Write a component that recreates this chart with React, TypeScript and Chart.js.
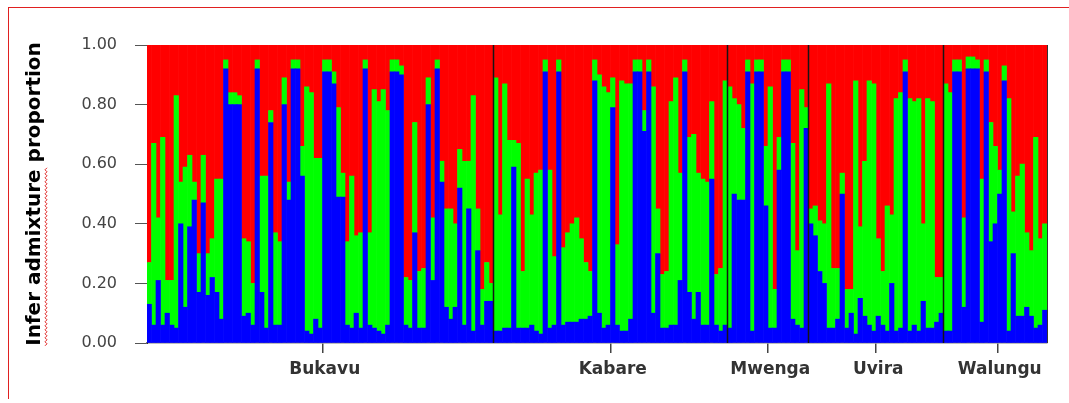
import React, { useEffect, useRef } from "react";
import { Chart, registerables } from "chart.js";

Chart.register(...registerables);

// ---- Data (ancestry proportions per individual, K = 3) ----
const POPULATIONS = ["Bukavu", "Kabare", "Mwenga", "Uvira", "Walungu"];

const BLUE_BUKAVU = [.13,.06,.21,.06,.10,.06,.05,.40,.12,.39,.48,.17,.47,.16,.22,.17,.08,.92,.80,.80,.80,.09,.10,.06,.92,.17,.05,.74,.06,.06,.80,.48,.92,.92,.56,.04,.03,.08,.05,.91,.91,.87,.49,.49,.06,.05,.10,.05,.92,.06,.05,.04,.03,.06,.91,.91,.90,.06,.05,.37,.05,.05,.80,.21,.92,.54,.12,.08,.12,.52,.06,.45,.04,.31,.06,.14,.14];
const GREEN_BUKAVU = [.14,.61,.21,.63,.11,.15,.78,.14,.47,.24,.06,.13,.16,.14,.13,.38,.47,.03,.04,.04,.03,.26,.24,.14,.03,.39,.51,.04,.31,.28,.09,.06,.03,.03,.10,.82,.81,.54,.57,.04,.04,.04,.30,.08,.28,.51,.26,.32,.03,.31,.80,.77,.82,.72,.04,.04,.03,.16,.16,.37,.19,.20,.09,.21,.03,.07,.33,.37,.28,.13,.55,.16,.79,.14,.12,.13,.06];
const RED_BUKAVU = [.73,.33,.58,.31,.79,.79,.17,.46,.41,.37,.46,.70,.37,.70,.65,.45,.45,.05,.16,.16,.17,.65,.66,.80,.05,.44,.44,.22,.63,.66,.11,.46,.05,.05,.34,.14,.16,.38,.38,.05,.05,.09,.21,.43,.66,.44,.64,.63,.05,.63,.15,.19,.15,.22,.05,.05,.07,.78,.79,.26,.76,.75,.11,.58,.05,.39,.55,.55,.60,.35,.39,.39,.17,.55,.82,.73,.80];

const BLUE_KABARE = [.04,.04,.05,.05,.59,.05,.05,.05,.06,.04,.03,.91,.05,.06,.91,.06,.07,.07,.07,.08,.08,.09,.88,.10,.05,.06,.79,.06,.04,.04,.08,.91,.91,.71,.91,.10,.30,.05,.05,.06,.06,.21,.91,.17,.08,.17,.06,.06,.55,.06,.04,.06];
const GREEN_KABARE = [.85,.39,.82,.63,.09,.62,.19,.50,.37,.53,.55,.04,.53,.23,.04,.26,.30,.33,.35,.27,.19,.15,.07,.80,.81,.78,.10,.27,.84,.83,.79,.04,.04,.07,.04,.76,.15,.18,.19,.75,.83,.36,.04,.52,.62,.40,.49,.48,.26,.17,.21,.82];
const RED_KABARE = [.11,.57,.13,.32,.32,.33,.76,.45,.57,.43,.42,.05,.42,.71,.05,.68,.63,.60,.58,.65,.73,.76,.05,.10,.14,.16,.11,.67,.12,.13,.13,.05,.05,.22,.05,.14,.55,.77,.76,.19,.11,.43,.05,.31,.30,.43,.45,.46,.19,.77,.75,.12];

const BLUE_MWENGA = [.05,.50,.48,.48,.91,.04,.91,.91,.46,.05,.05,.58,.91,.91,.08,.06,.05,.72];
const GREEN_MWENGA = [.81,.32,.32,.24,.04,.83,.04,.04,.20,.81,.13,.11,.04,.04,.59,.25,.80,.07];
const RED_MWENGA = [.14,.18,.20,.28,.05,.13,.05,.05,.34,.14,.82,.31,.05,.05,.33,.69,.15,.21];

const BLUE_UVIRA = [.40,.36,.24,.20,.05,.05,.08,.50,.05,.10,.03,.15,.09,.06,.04,.09,.06,.04,.20,.04,.05,.91,.04,.06,.04,.14,.05,.05,.07,.10];
const GREEN_UVIRA = [.05,.10,.17,.20,.82,.20,.17,.07,.13,.08,.85,.24,.52,.82,.83,.26,.18,.42,.23,.78,.79,.04,.78,.75,.78,.26,.77,.76,.15,.12];
const RED_UVIRA = [.55,.54,.59,.60,.13,.75,.75,.43,.82,.82,.12,.61,.39,.12,.13,.65,.76,.54,.57,.18,.16,.05,.18,.19,.18,.60,.18,.19,.78,.78];

const BLUE_WALUNGU = [.04,.04,.91,.91,.12,.92,.92,.92,.07,.91,.34,.40,.50,.88,.04,.30,.09,.09,.12,.09,.05,.06,.11];
const GREEN_WALUNGU = [.83,.80,.04,.04,.30,.04,.04,.03,.48,.04,.40,.26,.08,.05,.78,.14,.47,.51,.25,.22,.64,.29,.29];
const RED_WALUNGU = [.13,.16,.05,.05,.58,.04,.04,.05,.45,.05,.26,.34,.42,.07,.18,.56,.44,.40,.63,.69,.31,.65,.60];

const Y_TICKS = [0, 0.2, 0.4, 0.6, 0.8, 1.0];
const Y_TITLE = "Infer admixture proportion";
const Y_TITLE_FLAGGED = "Infer admixture";

// ---- Styles ----
const C_BLUE = "#0000ff";
const C_GREEN = "#00ff00";
const C_RED = "#ff0000";
const CANVAS_W = 1050;
const CANVAS_H = 381;
const TITLE_FONT_SIZE = 20;
const TITLE_PAD = 14;

const GROUP_BLUE = [BLUE_BUKAVU, BLUE_KABARE, BLUE_MWENGA, BLUE_UVIRA, BLUE_WALUNGU];
const GROUP_GREEN = [GREEN_BUKAVU, GREEN_KABARE, GREEN_MWENGA, GREEN_UVIRA, GREEN_WALUNGU];
const GROUP_RED = [RED_BUKAVU, RED_KABARE, RED_MWENGA, RED_UVIRA, RED_WALUNGU];

export default function App() {
  const canvasRef = useRef<HTMLCanvasElement | null>(null);

  useEffect(() => {
    document.body.style.margin = "0";
    const canvas = canvasRef.current;
    if (!canvas) return;

    const categories: string[] = [];
    const tickLabels: string[] = [];
    const groupStarts: number[] = [];
    POPULATIONS.forEach((pop, g) => {
      const size = GROUP_BLUE[g].length;
      const start = categories.length;
      groupStarts.push(start);
      const mid = start + Math.ceil(size / 2);
      for (let k = 0; k < size; k++) {
        categories.push(`${pop} ${k + 1}`);
        tickLabels.push(start + k === mid ? pop : "");
      }
    });
    const blue = GROUP_BLUE.flat();
    const green = GROUP_GREEN.flat();
    const red = GROUP_RED.flat();

    const decorPlugin = {
      id: "decor",
      afterDatasetsDraw(chart: any) {
        const { ctx, chartArea, scales } = chart;
        const x = scales.x;
        ctx.save();
        ctx.strokeStyle = "#151515";
        ctx.lineWidth = 1.5;
        groupStarts.slice(1).forEach((i) => {
          const px = (x.getPixelForValue(i - 1) + x.getPixelForValue(i)) / 2;
          ctx.beginPath();
          ctx.moveTo(px, chartArea.top);
          ctx.lineTo(px, chartArea.bottom);
          ctx.stroke();
        });
        ctx.strokeStyle = "#333";
        ctx.lineWidth = 1;
        ctx.beginPath();
        ctx.moveTo(chartArea.right + 0.5, chartArea.top);
        ctx.lineTo(chartArea.right + 0.5, chartArea.bottom);
        ctx.stroke();
        ctx.restore();
      },
      afterDraw(chart: any) {
        const { ctx, scales } = chart;
        const y = scales.y;
        ctx.save();
        ctx.font = `bold ${TITLE_FONT_SIZE}px "DejaVu Sans"`;
        const fullW = ctx.measureText(Y_TITLE).width;
        const partW = ctx.measureText(Y_TITLE_FLAGGED).width;
        const cy = (y.top + y.bottom) / 2;
        const bottom = cy + fullW / 2;
        const top = bottom - partW;
        const cx = TITLE_FONT_SIZE * 0.6 + TITLE_PAD;
        const lx = cx + 10;
        ctx.strokeStyle = "#e02424";
        ctx.lineWidth = 1;
        ctx.beginPath();
        let flip = false;
        ctx.moveTo(lx, bottom);
        for (let yy = bottom; yy > top; yy -= 2) {
          flip = !flip;
          ctx.lineTo(lx + (flip ? 2 : 0), yy - 2);
        }
        ctx.stroke();
        ctx.restore();
      },
    };

    const chart = new Chart(canvas, {
      type: "bar",
      data: {
        labels: categories,
        datasets: [
          { label: "Cluster 1", data: blue, backgroundColor: C_BLUE, borderWidth: 0 },
          { label: "Cluster 2", data: green, backgroundColor: C_GREEN, borderWidth: 0 },
          { label: "Cluster 3", data: red, backgroundColor: C_RED, borderWidth: 0 },
        ],
      },
      options: {
        animation: false,
        responsive: false,
        events: [],
        layout: { padding: { top: 37, right: 12, left: 0, bottom: 0 } },
        datasets: { bar: { barPercentage: 1, categoryPercentage: 1 } },
        plugins: { legend: { display: false }, tooltip: { enabled: false } },
        scales: {
          x: {
            stacked: true,
            afterFit: (s: any) => {
              s.height = 46;
            },
            grid: {
              display: true,
              drawOnChartArea: false,
              drawTicks: true,
              tickLength: 10,
              color: (c: any) => (tickLabels[c.index] ? "#444" : "rgba(0,0,0,0)"),
              lineWidth: 1.5,
            },
            border: { display: true, color: "#7a7a7a", width: 1.5 },
            ticks: {
              autoSkip: false,
              maxRotation: 0,
              minRotation: 0,
              padding: 6,
              color: "#333",
              font: { family: "DejaVu Sans", size: 17, weight: "bold" },
              callback: (_v: any, i: number) => tickLabels[i],
            },
          },
          y: {
            stacked: true,
            min: 0,
            max: 1,
            afterFit: (s: any) => {
              s.width = 138;
            },
            afterBuildTicks: (s: any) => {
              s.ticks = Y_TICKS.map((v) => ({ value: v }));
            },
            grid: {
              display: true,
              drawOnChartArea: false,
              drawTicks: true,
              tickLength: 12,
              color: "#555",
            },
            border: { display: true, color: "#333", width: 1 },
            ticks: {
              padding: 18,
              color: "#444",
              font: { family: "DejaVu Sans", size: 16 },
              callback: (v: any) => Number(v).toFixed(2),
            },
            title: {
              display: true,
              text: Y_TITLE,
              color: "#000",
              padding: { top: TITLE_PAD, bottom: 0 },
              font: { family: "DejaVu Sans", size: TITLE_FONT_SIZE, weight: "bold", lineHeight: 1.2 },
            },
          },
        },
      },
      plugins: [decorPlugin],
    } as any);

    return () => chart.destroy();
  }, []);

  return (
    <div
      style={{
        position: "relative",
        marginLeft: 8,
        marginTop: 7,
        width: 1061,
        height: 392,
        borderTop: "1px solid #e02020",
        borderLeft: "1px solid #e02020",
        background: "#fff",
        boxSizing: "border-box",
      }}
    >
      <canvas ref={canvasRef} width={CANVAS_W} height={CANVAS_H} style={{ display: "block" }} />
    </div>
  );
}
